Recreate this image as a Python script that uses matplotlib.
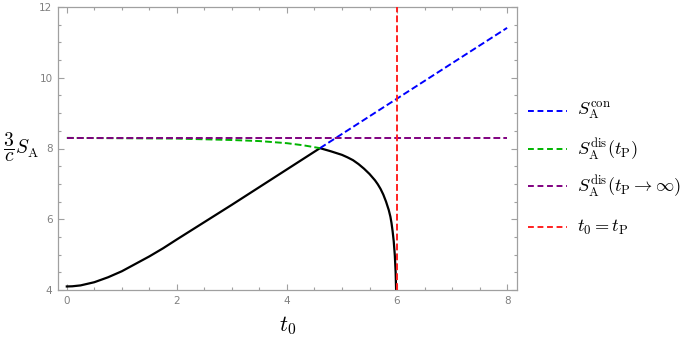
import numpy as np
import matplotlib
matplotlib.use('Agg')
import matplotlib.pyplot as plt
from matplotlib.lines import Line2D
from matplotlib.ticker import MultipleLocator

plt.rcParams['mathtext.fontset'] = 'cm'

# values
t_con = np.array([0, 0.1, 0.25, 0.5, 0.75, 1, 1.25, 1.5, 1.75, 2, 2.5, 3, 3.5, 4,
                  4.6, 5, 6, 7, 8])
s_con = np.array([4.10, 4.105, 4.13, 4.22, 4.36, 4.53, 4.74, 4.95, 5.18, 5.43, 5.92,
                  6.41, 6.91, 7.41, 8.01, 8.41, 9.41, 10.41, 11.41])

t_dis = np.array([0, 1, 2, 2.5, 3, 3.5, 4, 4.3, 4.6, 4.8, 5.0, 5.1, 5.2, 5.3, 5.4,
                  5.5, 5.6, 5.65, 5.7, 5.75, 5.8, 5.85, 5.88, 5.9, 5.92, 5.94, 5.96,
                  5.975, 5.985])
s_dis = np.array([8.30, 8.29, 8.28, 8.26, 8.24, 8.21, 8.15, 8.09, 8.01, 7.92, 7.82,
                  7.75, 7.67, 7.56, 7.43, 7.28, 7.10, 6.99, 6.86, 6.70, 6.50, 6.26,
                  6.07, 5.89, 5.66, 5.38, 4.98, 4.50, 3.9])

s_inf = 8.3
t_p = 6.0
t_cross = 4.6

labels = [r'$S_{\rm A}^{\rm con}$', r'$S_{\rm A}^{\rm dis}(t_{\rm P})$',
          r'$S_{\rm A}^{\rm dis}(t_{\rm P}\to\infty)$', r'$t_0=t_{\rm P}$']
colors = ['#0000ff', '#00b400', '#800080', '#ff2020']

W, H = 692, 339
fig = plt.figure(figsize=(W / 100, H / 100), dpi=100)
ax = fig.add_axes([58 / W, 1 - 290 / H, 459 / W, 283 / H])

# black: connected phase until crossing, then disconnected
black_t = np.concatenate([t_con[t_con <= t_cross], t_dis[t_dis > t_cross]])
black_s = np.concatenate([s_con[t_con <= t_cross], s_dis[t_dis > t_cross]])
ax.plot(black_t, black_s, color='black', lw=1.6, zorder=2)

dash = (3.5, 1.6)
ax.plot(t_con[t_con >= t_cross], s_con[t_con >= t_cross], color=colors[0],
        lw=1.4, dashes=dash, zorder=3)
ax.plot(t_dis[t_dis <= t_cross], s_dis[t_dis <= t_cross], color=colors[1],
        lw=1.4, dashes=dash, zorder=3)
ax.plot([0, 8], [s_inf, s_inf], color=colors[2], lw=1.4, dashes=dash, zorder=3)
ax.axvline(t_p, color=colors[3], lw=1.4, dashes=dash, zorder=4)

ax.set_xlim(-0.16, 8.18)
ax.set_ylim(4, 12)
ax.xaxis.set_major_locator(MultipleLocator(2))
ax.xaxis.set_minor_locator(MultipleLocator(0.5))
ax.yaxis.set_major_locator(MultipleLocator(2))
ax.yaxis.set_minor_locator(MultipleLocator(0.5))
ax.tick_params(which='both', direction='in', top=True, right=True,
               color='#a0a0a0', labelcolor='#808080', labelsize=7.5, width=0.8)
ax.tick_params(which='major', length=4, pad=4)
ax.tick_params(which='minor', length=2.2)
for sp in ax.spines.values():
    sp.set_color('#a0a0a0')
    sp.set_linewidth(0.9)

ax.set_xlabel(r'$t_0$', fontsize=16, labelpad=6)
fig.text(3 / W, 1 - 147 / H, r'$\dfrac{3}{c}S_{\rm A}$', fontsize=14,
         ha='left', va='center')

# legend drawn by hand to the right of the frame
rows = [111, 149, 186, 227]
for lab, col, y in zip(labels, colors, rows):
    yf = 1 - y / H
    fig.add_artist(Line2D([528 / W, 567 / W], [yf, yf], transform=fig.transFigure,
                          color=col, lw=1.4, dashes=(3.0, 1.9)))
    fig.text(577 / W, yf, lab, fontsize=13.2, ha='left', va='center')

fig.savefig('out.png', dpi=100)
